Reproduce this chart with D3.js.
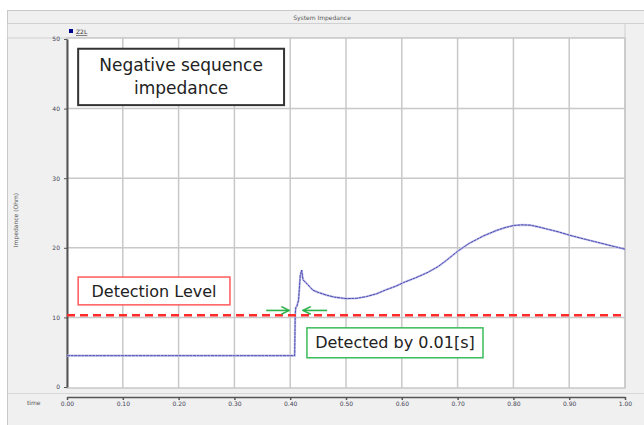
<!DOCTYPE html>
<html lang="en">
	<head>
		<meta charset="utf-8">
		<title>System Impedance</title>
		<script type="text/javascript" src="https://cdn.jsdelivr.net/npm/d3@7"></script>
		<style>
			body { margin: 0; background: #ffffff; }
			text { font-family: "DejaVu Sans", sans-serif; }
		</style>
	</head>
	<body>
		<script type="text/javascript">

			var w = 644;
			var h = 425;

			// Z2L trace
			var times = [0, 0.10, 0.20, 0.30, 0.40, 0.408, 0.409, 0.410, 0.412, 0.415, 0.418, 0.4206, 0.423, 0.428, 0.435, 0.441, 0.450, 0.465, 0.480, 0.500, 0.520, 0.537, 0.555, 0.573, 0.590, 0.603, 0.625, 0.645, 0.665, 0.680, 0.700, 0.720, 0.746, 0.770, 0.785, 0.800, 0.815, 0.830, 0.845, 0.860, 0.880, 0.901, 0.925, 0.950, 0.975, 1.000];
			var z2l = [4.5, 4.5, 4.5, 4.5, 4.5, 4.5, 10.5, 11.4, 11.6, 12.5, 16.0, 16.8, 15.4, 15.0, 14.4, 13.9, 13.6, 13.2, 12.9, 12.7, 12.75, 13.0, 13.4, 14.0, 14.5, 15.0, 15.7, 16.4, 17.3, 18.2, 19.5, 20.6, 21.7, 22.5, 22.9, 23.2, 23.3, 23.25, 23.0, 22.7, 22.3, 21.8, 21.3, 20.8, 20.3, 19.8];

			var xTicks = [0, 0.1, 0.2, 0.3, 0.4, 0.5, 0.6, 0.7, 0.8, 0.9, 1.0];
			var yTicks = [0, 10, 20, 30, 40, 50];
			var detectionLevel = 10.3;

			var plotLeft = 67, plotRight = 625, plotTop = 38, plotBottom = 388;

			var xScale = d3.scaleLinear()
						   .domain([0, 1])
						   .range([plotLeft, plotRight]);

			var yScale = d3.scaleLinear()
						   .domain([0, 50])
						   .range([387, 39]);

			var svg = d3.select("body")
						.append("svg")
						.attr("width", w)
						.attr("height", h);

			// window frame
			svg.append("rect")
			   .attr("x", 7.5).attr("y", 10.5)
			   .attr("width", w).attr("height", h)
			   .attr("fill", "#f0f0f0")
			   .attr("stroke", "#c8c8c8");

			svg.append("line")
			   .attr("x1", 7.5).attr("x2", w)
			   .attr("y1", 23.5).attr("y2", 23.5)
			   .attr("stroke", "#d0d0d0");

			svg.append("text")
			   .text("System Impedance")
			   .attr("x", 322).attr("y", 19.5)
			   .attr("font-size", "6px")
			   .attr("fill", "#555")
			   .attr("text-anchor", "middle");

			// legend strip
			svg.append("rect")
			   .attr("x", 7.5).attr("y", 23.5)
			   .attr("width", plotRight - 7.5).attr("height", plotTop - 23.5)
			   .attr("fill", "#f0f0f0")
			   .attr("stroke", "#d0d0d0");

			svg.append("rect")
			   .attr("x", 69).attr("y", 29)
			   .attr("width", 4).attr("height", 4)
			   .attr("fill", "#000090");

			svg.append("text")
			   .text("Z2L")
			   .attr("x", 76).attr("y", 34)
			   .attr("font-size", "6px")
			   .attr("fill", "#333")
			   .attr("text-decoration", "underline");

			// plot area
			svg.append("rect")
			   .attr("x", plotLeft).attr("y", plotTop)
			   .attr("width", plotRight - plotLeft).attr("height", plotBottom - plotTop)
			   .attr("fill", "#ffffff")
			   .attr("stroke", "#c8c8c8")
			   .attr("stroke-width", 1.5);

			svg.append("g")
			   .selectAll("line")
			   .data(xTicks.slice(1))
			   .enter()
			   .append("line")
			   .attr("x1", function(d) { return xScale(d); })
			   .attr("x2", function(d) { return xScale(d); })
			   .attr("y1", plotTop)
			   .attr("y2", plotBottom)
			   .attr("stroke", "#c8c8c8")
			   .attr("stroke-width", 1.5);

			svg.append("g")
			   .selectAll("line")
			   .data(yTicks.slice(1, -1))
			   .enter()
			   .append("line")
			   .attr("x1", plotLeft)
			   .attr("x2", plotRight)
			   .attr("y1", function(d) { return yScale(d); })
			   .attr("y2", function(d) { return yScale(d); })
			   .attr("stroke", "#c8c8c8")
			   .attr("stroke-width", 1.5);

			// separator above the time axis
			svg.append("line")
			   .attr("x1", 7.5).attr("x2", w)
			   .attr("y1", 393.5).attr("y2", 393.5)
			   .attr("stroke", "#d8d8d8");

			// axes
			var yAxis = d3.axisLeft(yScale)
						  .tickValues(yTicks)
						  .tickSize(3)
						  .tickSizeOuter(0)
						  .tickFormat(d3.format("d"));

			var yg = svg.append("g")
			   .attr("class", "axis")
			   .attr("transform", "translate(" + plotLeft + ", 0)")
			   .call(yAxis);
			yg.select(".domain").attr("stroke", "#555").attr("stroke-width", 2);
			yg.selectAll(".tick line").attr("stroke", "#555");
			yg.selectAll(".tick text").attr("font-size", "6px").attr("fill", "#445").attr("x", -7);

			var xAxis = d3.axisBottom(xScale)
						  .tickValues(xTicks)
						  .tickSize(3)
						  .tickSizeOuter(0)
						  .tickFormat(d3.format(".2f"));

			var xg = svg.append("g")
			   .attr("class", "axis")
			   .attr("transform", "translate(0, 397)")
			   .call(xAxis);
			xg.select(".domain").attr("stroke", "#555").attr("stroke-width", 1.5);
			xg.selectAll(".tick line").attr("stroke", "#555").attr("stroke-width", 1.5);
			xg.selectAll(".tick text").attr("font-size", "6px").attr("fill", "#445").attr("y", 5);

			svg.append("text")
			   .text("time")
			   .attr("x", 27).attr("y", 405)
			   .attr("font-size", "6px")
			   .attr("fill", "#555");

			svg.append("text")
			   .text("Impedance (Ohm)")
			   .attr("transform", "translate(18, 220) rotate(-90)")
			   .attr("font-size", "6px")
			   .attr("fill", "#555")
			   .attr("text-anchor", "middle");

			// Z2L series
			var points = times.map(function(t, i) { return [t, z2l[i]]; });

			var line = d3.line()
						 .x(function(d) { return xScale(d[0]); })
						 .y(function(d) { return yScale(d[1]); });

			svg.append("path")
			   .datum(points)
			   .attr("d", line)
			   .attr("fill", "none")
			   .attr("stroke", "#c4c4ea")
			   .attr("stroke-width", 2.2);

			svg.append("path")
			   .datum(points)
			   .attr("d", line)
			   .attr("fill", "none")
			   .attr("stroke", "#3a3aac")
			   .attr("stroke-width", 0.9)
			   .attr("stroke-dasharray", "3,0.6");

			// detection level
			svg.append("line")
			   .attr("x1", plotLeft).attr("x2", plotRight)
			   .attr("y1", yScale(detectionLevel)).attr("y2", yScale(detectionLevel))
			   .attr("stroke", "#ff2a2a")
			   .attr("stroke-width", 2.5)
			   .attr("stroke-dasharray", "8,5");

			// annotation boxes, in data coordinates
			var boxes = [
				{ x0: 0.02, x1: 0.389, y0: 48.6, y1: 40.5, stroke: "#333333", sw: 2, lines: ["Negative sequence", "impedance"], size: 17 },
				{ x0: 0.02, x1: 0.292, y0: 15.8, y1: 11.8, stroke: "#ff5a5a", sw: 1.5, lines: ["Detection Level"], size: 16 },
				{ x0: 0.43, x1: 0.7455, y0: 8.5, y1: 4.2, stroke: "#3cbc5a", sw: 1.5, lines: ["Detected by 0.01[s]"], size: 16 }
			];

			boxes.forEach(function(b) {
				var bx = xScale(b.x0), by = yScale(b.y0);
				var bw = xScale(b.x1) - bx, bh = yScale(b.y1) - by;
				svg.append("rect")
				   .attr("x", bx).attr("y", by)
				   .attr("width", bw).attr("height", bh)
				   .attr("fill", "#ffffff")
				   .attr("stroke", b.stroke)
				   .attr("stroke-width", b.sw);
				var lh = b.size * 1.35;
				var startY = by + bh / 2 - (b.lines.length - 1) * lh / 2;
				b.lines.forEach(function(s, i) {
					svg.append("text")
					   .text(s)
					   .attr("x", bx + bw / 2)
					   .attr("y", startY + i * lh)
					   .attr("dy", "0.35em")
					   .attr("font-family", "Lato, 'Open Sans', sans-serif")
					   .attr("font-size", b.size + "px")
					   .attr("fill", "#222")
					   .attr("text-anchor", "middle");
				});
			});

			// green arrows
			var defs = svg.append("defs");
			defs.append("marker")
				.attr("id", "arrowG")
				.attr("viewBox", "0 0 10 10")
				.attr("refX", 9).attr("refY", 5)
				.attr("markerWidth", 6).attr("markerHeight", 6)
				.attr("orient", "auto")
				.append("path")
				.attr("d", "M1,1 L9,5 L1,9")
				.attr("fill", "none")
				.attr("stroke", "#2db34a")
				.attr("stroke-width", 1.6);

			var arrows = [
				{ from: 0.357, to: 0.398, v: 11.0 },
				{ from: 0.466, to: 0.423, v: 11.0 }
			];

			svg.selectAll(".arrow")
			   .data(arrows)
			   .enter()
			   .append("line")
			   .attr("class", "arrow")
			   .attr("x1", function(d) { return xScale(d.from); })
			   .attr("x2", function(d) { return xScale(d.to); })
			   .attr("y1", function(d) { return yScale(d.v); })
			   .attr("y2", function(d) { return yScale(d.v); })
			   .attr("stroke", "#2db34a")
			   .attr("stroke-width", 1.6)
			   .attr("marker-end", "url(#arrowG)");

		</script>
	</body>
</html>
